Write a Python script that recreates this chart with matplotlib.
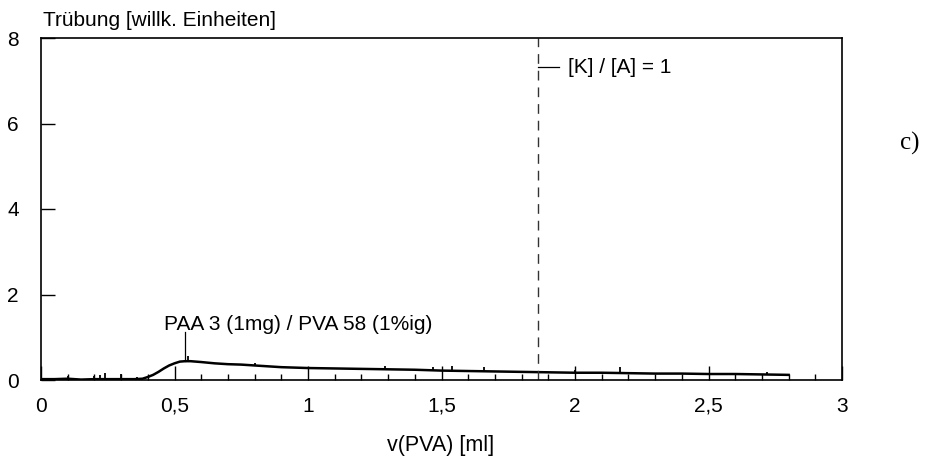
import numpy as np
import matplotlib
matplotlib.use("Agg")
import matplotlib.pyplot as plt
from matplotlib.ticker import MultipleLocator, FuncFormatter

plt.rcParams['font.family'] = ['Liberation Sans', 'DejaVu Sans']

# Messkurve
v_pva = [0.00, 0.05, 0.10, 0.15, 0.20, 0.25, 0.30, 0.35, 0.38, 0.40, 0.42, 0.44,
         0.46, 0.48, 0.50, 0.52, 0.54, 0.56, 0.60, 0.65, 0.70, 0.75, 0.80, 0.85,
         0.90, 0.95, 1.00, 1.10, 1.20, 1.30, 1.40, 1.50, 1.60, 1.70, 1.80, 1.90,
         2.00, 2.10, 2.20, 2.30, 2.40, 2.50, 2.60, 2.70, 2.80]
truebung = [0.02, 0.02, 0.03, 0.01, 0.02, 0.02, 0.02, 0.02, 0.03, 0.07, 0.12, 0.19,
            0.27, 0.34, 0.39, 0.43, 0.44, 0.44, 0.42, 0.39, 0.37, 0.36, 0.34, 0.32,
            0.30, 0.29, 0.28, 0.27, 0.26, 0.25, 0.24, 0.22, 0.21, 0.20, 0.19, 0.18,
            0.17, 0.17, 0.16, 0.15, 0.15, 0.14, 0.14, 0.13, 0.12]

# kleine Ausreisser (Position, Spitzenwert)
spike_x = [0.10, 0.20, 0.22, 0.24, 0.30, 0.36, 0.55, 0.80, 1.29, 1.47, 1.54,
           1.66, 2.00, 2.17, 2.72]
spike_top = [0.10, 0.10, 0.11, 0.17, 0.13, 0.07, 0.56, 0.40, 0.32, 0.30, 0.33,
             0.30, 0.23, 0.30, 0.19]

ratio_x = 1.86
peak_x = 0.54

fig = plt.figure(figsize=(9.38, 4.59), dpi=100)
ax = fig.add_axes([41/938, 1-380/459, 801/938, 342/459])

ax.plot(v_pva, truebung, color='black', lw=1.8)
ax.vlines(spike_x, np.interp(spike_x, v_pva, truebung), spike_top, color='black', lw=1.3)

ax.axvline(ratio_x, color='#333333', lw=1.0, dashes=(7, 5))
ax.plot([ratio_x, ratio_x + 0.08], [7.32, 7.32], color='black', lw=0.9)
ax.text(ratio_x + 0.115, 7.32, '[K] / [A] = 1', fontsize=15, va='center', ha='left')

ax.plot([peak_x, peak_x], [0.44, 1.12], color='black', lw=0.9)
ax.text(0.46, 1.29, 'PAA 3 (1mg) / PVA 58 (1%ig)', fontsize=15, va='center', ha='left')

ax.set_xlim(0, 3)
ax.set_ylim(0, 8)
ax.xaxis.set_major_locator(MultipleLocator(0.5))
ax.xaxis.set_minor_locator(MultipleLocator(0.1))
ax.yaxis.set_major_locator(MultipleLocator(2))
fmt = FuncFormatter(lambda v, p: ('%g' % v).replace('.', ','))
ax.xaxis.set_major_formatter(fmt)
ax.tick_params(axis='both', which='major', direction='in', length=10, width=1,
               labelsize=15)
ax.tick_params(axis='x', which='minor', direction='in', length=4, width=1)
ax.tick_params(axis='x', which='major', pad=12)
ax.tick_params(axis='y', which='major', pad=16)
for s in ax.spines.values():
    s.set_linewidth(1.2)

fig.text(43/938, 1-20/459, 'Trübung [willk. Einheiten]', fontsize=15, va='center', ha='left')
fig.text(441/938, 1-446/459, 'v(PVA) [ml]', fontsize=15.5, va='center', ha='center')
fig.text(910/938, 1-143/459, 'c)', fontsize=18, va='center', ha='center',
         family=['Liberation Serif', 'DejaVu Serif'])

fig.savefig('out.png', dpi=100)
